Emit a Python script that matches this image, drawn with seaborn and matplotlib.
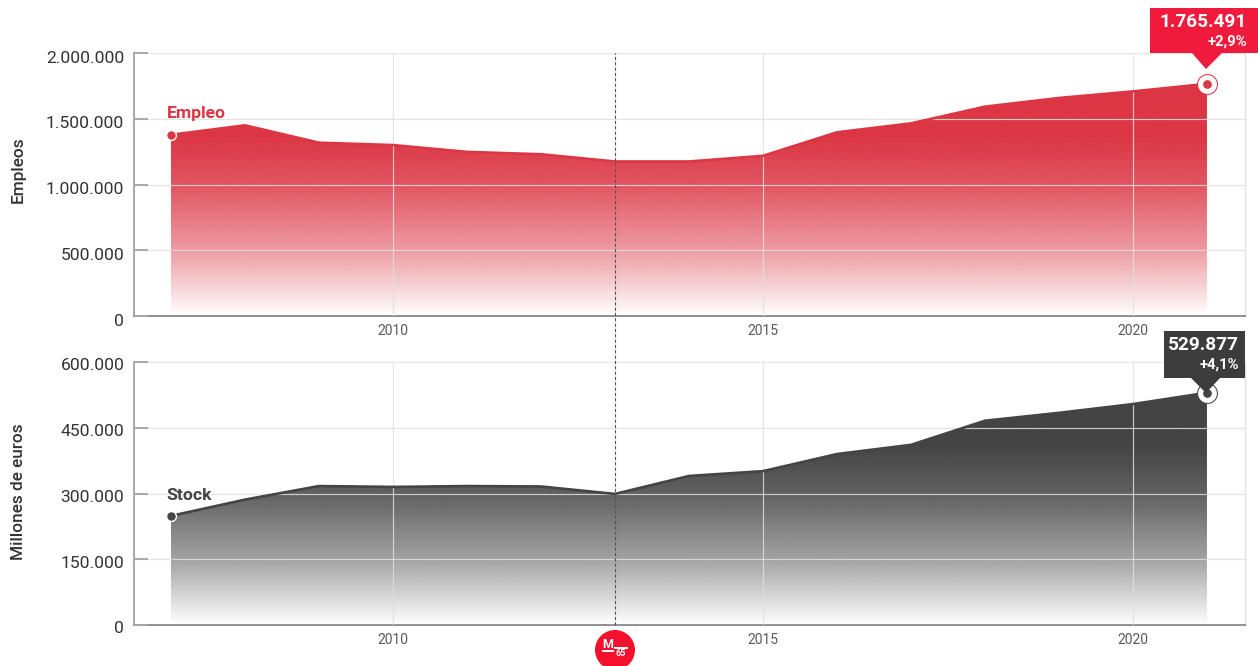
import numpy as np
import pandas as pd
import matplotlib.pyplot as plt
import seaborn as sns
from matplotlib.colors import LinearSegmentedColormap, to_rgb
from matplotlib.patches import Circle, Polygon, Rectangle
from matplotlib.ticker import FuncFormatter
from matplotlib.transforms import Affine2D, ScaledTranslation

years = list(range(2007, 2022))
empleo = [1378000, 1450000, 1318000, 1300000, 1248000, 1230000, 1175000, 1175000,
          1218000, 1397000, 1465000, 1592000, 1658000, 1708000, 1765491]
stock = [249000, 286000, 317000, 315000, 317000, 316000, 299000, 340000,
         351000, 390000, 411000, 466000, 484000, 504000, 529877]

empleo_ticks = [0, 500000, 1000000, 1500000, 2000000]
stock_ticks = [0, 150000, 300000, 450000, 600000]
year_ticks = [2010, 2015, 2020]

RED = '#dc3644'
DARK = '#444444'
W, H = 1258, 666
XLIM = (2006.5, 2021.514)

sns.set_theme(style='white')
plt.rcParams['font.family'] = ['Roboto', 'DejaVu Sans']

df = pd.DataFrame({'year': years, 'empleo': empleo, 'stock': stock})
fig = plt.figure(figsize=(W / 100, H / 100), dpi=100)


def px_axes(left, top, right, bottom):
    return fig.add_axes([left / W, 1 - bottom / H, (right - left) / W, (bottom - top) / H])


def thousands(v, pos=None):
    return f'{int(v):,}'.replace(',', '.')


def area(ax, col, color, ticks, ylabel, label_y, name, name_dy, tick_dy):
    sub = df[col]
    ymax = ticks[-1]
    ax.set_xlim(*XLIM)
    ax.set_ylim(0, ymax)

    # degradado recortado por la silueta del area
    r, g, b = to_rgb(color)
    cmap = LinearSegmentedColormap.from_list('fade', [
        (0.0, (r, g, b, 0.0)), (0.1, (r, g, b, 0.2)), (0.25, (r, g, b, 0.5)),
        (0.5, (r, g, b, 0.85)), (0.68, (r, g, b, 1.0)), (1.0, (r, g, b, 1.0))])
    poly = ax.fill_between(df['year'], 0, sub, color='none', lw=0)
    im = ax.imshow(np.linspace(1, 0, 256).reshape(-1, 1), cmap=cmap, aspect='auto',
                   extent=(XLIM[0], XLIM[1], 0, ymax), zorder=1, vmin=0, vmax=1)
    im.set_clip_path(poly.get_paths()[0], transform=ax.transData)
    ax.set_xlim(*XLIM)
    ax.set_ylim(0, ymax)

    sns.lineplot(data=df, x='year', y=col, color=color, lw=1.9, ax=ax, zorder=3)

    ax.set_xticks(year_ticks)
    ax.set_yticks(ticks)
    ax.yaxis.set_major_formatter(FuncFormatter(thousands))
    ax.grid(True, color='#e0e0e0', lw=0.85, alpha=0.85)
    ax.set_axisbelow(False)
    for g_line in ax.get_xgridlines() + ax.get_ygridlines():
        g_line.set_zorder(2)
    ax.axvline(XLIM[1], color='#e0e0e0', lw=0.85, zorder=2, clip_on=False)

    ax.tick_params(axis='y', left=True, direction='in', length=10, width=1.4, color='#a8a8a8',
                   pad=7, labelsize=12.6, labelcolor='#333333')
    ax.tick_params(axis='x', length=0, pad=6, labelsize=10, labelcolor='#5a5a5a')
    for lab in ax.get_yticklabels():
        lab.set_transform(lab.get_transform() + ScaledTranslation(0, -tick_dy / 72, fig.dpi_scale_trans))

    for s in ['top', 'right']:
        ax.spines[s].set_visible(False)
    ax.spines['left'].set_color('#a8a8a8')
    ax.spines['left'].set_linewidth(1.4)
    ax.spines['bottom'].set_color('#8c8c8c')
    ax.spines['bottom'].set_linewidth(1.4)

    ax.set_xlabel('')
    ax.set_ylabel(ylabel, fontsize=12.4, fontweight='medium', color='#333333')
    ax.yaxis.set_label_coords((26 - 134) / (1245 - 134), label_y)

    # punto inicial y etiqueta de la serie
    ax.scatter(df['year'].iloc[0], sub.iloc[0], s=50, color=color, edgecolor='white',
               linewidth=1.0, zorder=5, clip_on=False)
    ax.annotate(name, (df['year'].iloc[0], sub.iloc[0]), xytext=(-3, name_dy),
                textcoords='offset points', color=color, fontsize=12.6,
                fontweight='bold', va='center', ha='left', zorder=6)


def callout(ax, col, color, dot, box, tip_px, value, pct, inset):
    xd, yd = df['year'].iloc[-1], df[col].iloc[-1]
    px, py = ax.transData.transform((xd, yd))
    ax.scatter(xd, yd, s=205, color='white', edgecolor=dot, linewidth=0.75, zorder=5, clip_on=False)
    ax.scatter(xd, yd, s=50, color=dot, edgecolor='white', linewidth=0.8, zorder=6, clip_on=False)

    left, top, right, bottom = box
    pts = [(left, top), (right, top), (right, bottom), (tip_px[1], bottom),
           (px - 1, tip_px[0]), (tip_px[2], bottom), (left, bottom)]
    pts = [(x / W, 1 - y / H) for x, y in pts]
    fig.add_artist(Polygon(pts, closed=True, transform=fig.transFigure, fc=color, ec='none', zorder=10))
    fig.text((right - inset) / W, 1 - (top + 14) / H, value, color='white', fontsize=13.7,
             fontweight='bold', ha='right', va='center', zorder=11)
    fig.text((right - inset) / W, 1 - (top + 33.5) / H, pct, color='white', fontsize=10.6,
             fontweight='bold', ha='right', va='center', zorder=11)


ax1 = px_axes(134, 53, 1245, 316)
ax2 = px_axes(134, 362, 1245, 625)

area(ax1, 'empleo', RED, empleo_ticks, 'Empleos', 0.555, 'Empleo', 15.5, 2.6)
area(ax2, 'stock', DARK, stock_ticks, 'Millones de euros', 0.505, 'Stock', 14.5, 1.7)

fig.canvas.draw()
callout(ax1, 'empleo', '#f01a3c', RED, (1150, 8, 1258, 53), (69, 1192, 1222), '1.765.491', '+2,9%', 11)
callout(ax2, 'stock', '#3c3c3c', DARK, (1164, 331, 1245, 378), (393, 1191, 1220), '529.877', '+4,1%', 6)

# linea discontinua que cruza los dos paneles
ax2.axvline(2013, ymin=0, ymax=(625 - 53) / 263, color='#555555', lw=0.8, ls=(0, (3, 1.8)),
            clip_on=False, zorder=7)

# logo
fig.add_artist(Circle((615, H - 650), 20, transform=Affine2D(), fc='#f5102e', ec='none', zorder=12))
fig.text(608 / W, 1 - 644.5 / H, 'M', color='white', fontsize=9, fontweight='bold', ha='center', va='center', zorder=13)
fig.add_artist(Rectangle((602 / W, 1 - 651.5 / H), 12 / W, 1.2 / H, transform=fig.transFigure, fc='white', ec='none', zorder=13))
fig.add_artist(Rectangle((614 / W, 1 - 648.5 / H), 14 / W, 1.2 / H, transform=fig.transFigure, fc='white', ec='none', zorder=13))
fig.text(621 / W, 1 - 654 / H, '65', color='white', fontsize=6.5, fontweight='bold', ha='center', va='center', zorder=13)

fig.savefig('out.png', dpi=100, facecolor='white')
